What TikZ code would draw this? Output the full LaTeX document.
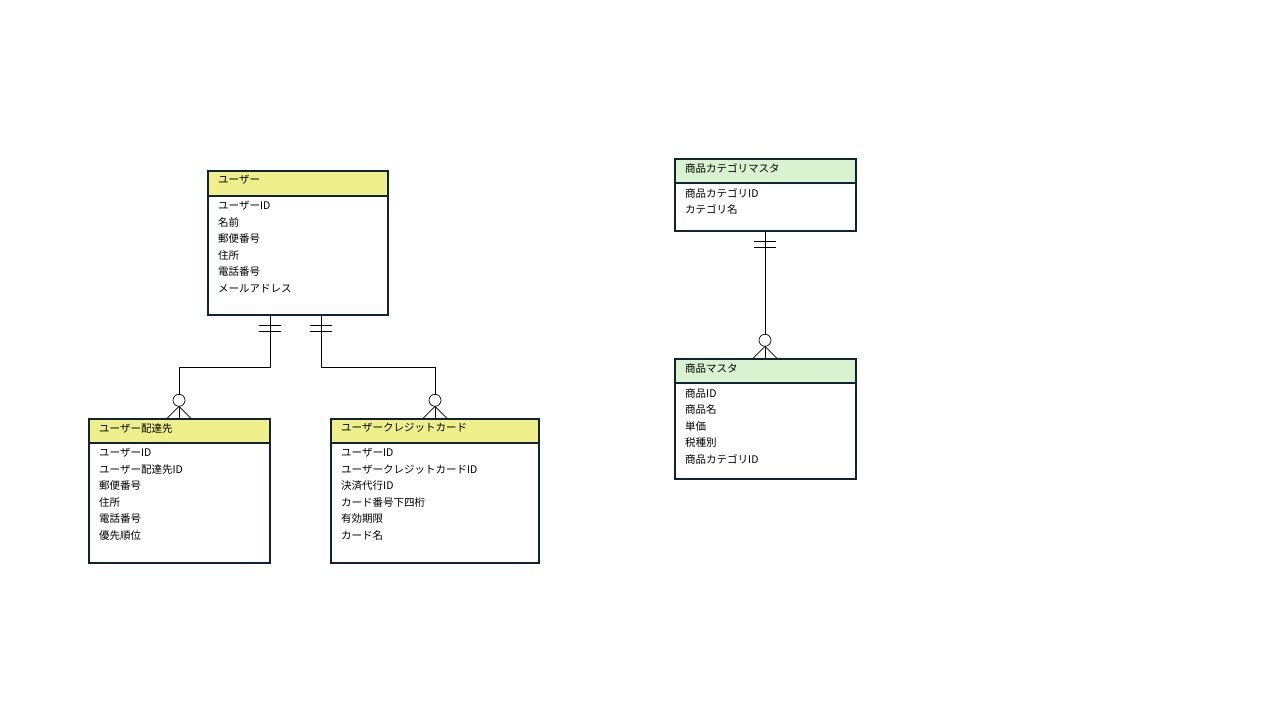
\documentclass[tikz,border=0pt]{standalone}
\usepackage{fontspec}
\setmainfont{Noto Sans CJK JP}
\begin{document}
\begin{tikzpicture}[x=1pt,y=-1pt,
  bx/.style={draw=boxc,line width=1.3pt},
  txt/.style={anchor=north west,inner sep=0pt,font=\fontsize{10.5}{16.6}\selectfont,align=left},
  ln/.style={line width=0.7pt}]
\definecolor{boxc}{HTML}{0E2436}
\definecolor{yel}{HTML}{EFEF8C}
\definecolor{grn}{HTML}{D9F2D0}
\useasboundingbox (0,0) rectangle (1280,720);
\newcommand{\ent}[8]{% name x1 y1 x2 y2 yh color title body
  \fill[#6] (#2,#3) rectangle (#4,#5);
  \draw[bx] (#2,#3) rectangle (#4,#5);
  \node[txt] (#1) at (#2+10,#3+4) {#7};
}
\newcommand{\entbody}[5]{% x1 yh x2 y2 body
  \draw[bx] (#1,#2) rectangle (#3,#4);
  \node[txt] at (#1+10,#2+5) {#5};
}
% user
\ent{u}{208}{171}{388}{196}{yel}{ユーザー}{}
\entbody{208}{196}{388}{315}{ユーザーID\\名前\\郵便番号\\住所\\電話番号\\メールアドレス}
\ent{d}{89}{419}{270}{443}{yel}{ユーザー配達先}{}
\entbody{89}{443}{270}{563}{ユーザーID\\ユーザー配達先ID\\郵便番号\\住所\\電話番号\\優先順位}
\ent{c}{331}{419}{539}{443}{yel}{ユーザークレジットカード}{}
\entbody{331}{443}{539}{563}{ユーザーID\\ユーザークレジットカードID\\決済代行ID\\カード番号下四桁\\有効期限\\カード名}
\ent{k}{675}{159}{856}{183}{grn}{商品カテゴリマスタ}{}
\entbody{675}{183}{856}{231}{商品カテゴリID\\カテゴリ名}
\ent{p}{675}{359}{856}{383}{grn}{商品マスタ}{}
\entbody{675}{383}{856}{479}{商品ID\\商品名\\単価\\税種別\\商品カテゴリID}
% connectors
\coordinate (a1) at (270,315.7); \coordinate (a2) at (179,418.3);
\coordinate (b1) at (321,315.7); \coordinate (b2) at (435,418.3);
\coordinate (c1) at (765,231.7); \coordinate (c2) at (765,358.3);
\draw[ln] (a1) -- (270,367) -- (179,367) -- (a2);
\draw[ln] (b1) -- (321,367) -- (435,367) -- (b2);
\draw[ln] (c1) -- (c2);
\foreach \x/\y in {270/315.7,321/315.7,765/231.7}{
  \draw[ln] (\x-11,\y+10) -- (\x+11,\y+10);
  \draw[ln] (\x-11,\y+16) -- (\x+11,\y+16);
}
\foreach \x/\y in {179/418.3,435/418.3,765/358.3}{
  \draw[ln,fill=white] (\x,\y-18) circle (6);
  \draw[ln] (\x-12,\y) -- (\x,\y-12) -- (\x+12,\y);
}
\end{tikzpicture}
\end{document}
